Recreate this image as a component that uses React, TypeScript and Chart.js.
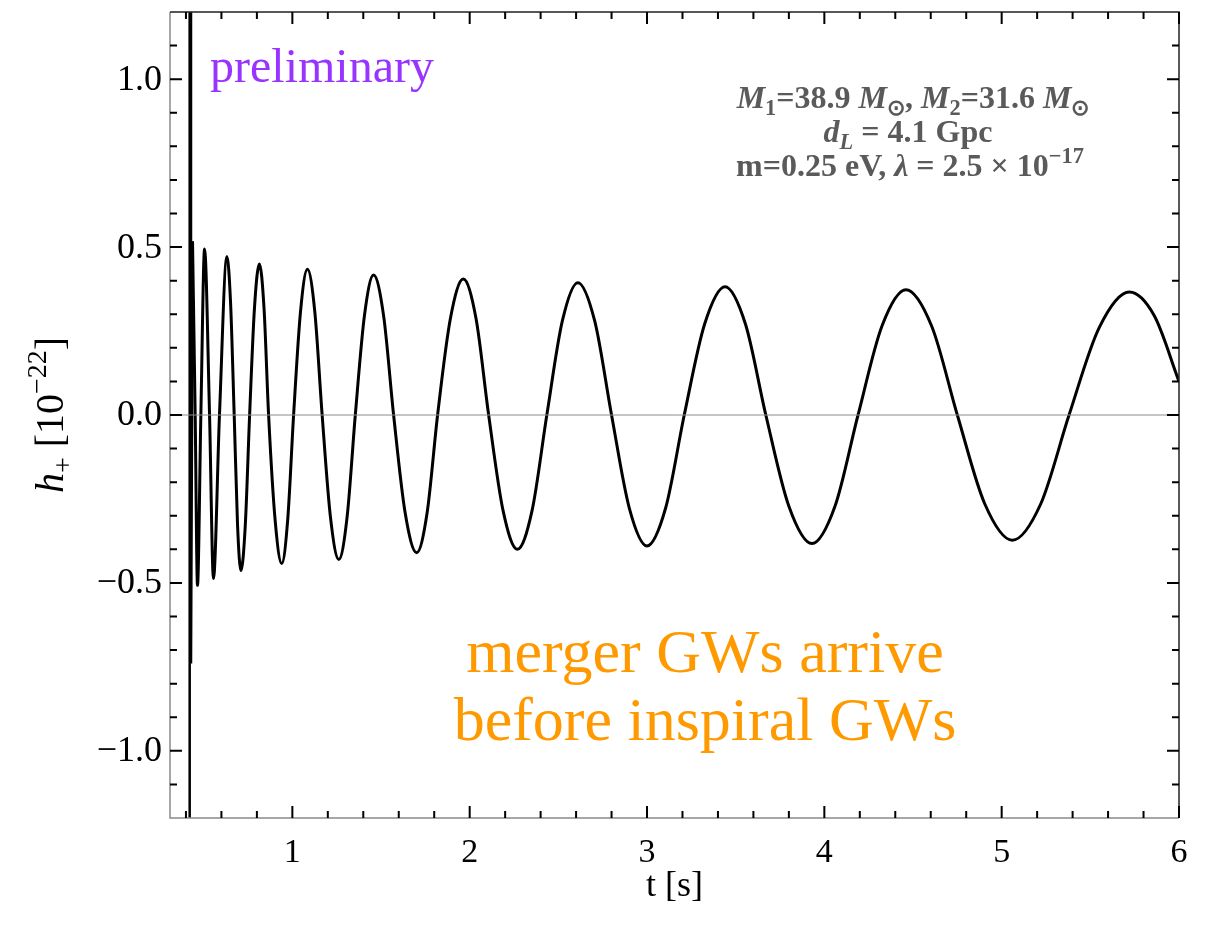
import React, { useEffect, useRef } from 'react';
import { Chart, registerables } from 'chart.js';
Chart.register(...registerables);

const W = 1215;
const H = 929;
const xMin = 0.31;
const xMax = 6.0;
const yMin = -1.2;
const yMax = 1.2;

const xMajorTicks = [1, 2, 3, 4, 5, 6];
const xTickLabels = ['1', '2', '3', '4', '5', '6'];
const xMinorTicks = [0.4, 0.6, 0.8, 1.2, 1.4, 1.6, 1.8, 2.2, 2.4, 2.6, 2.8, 3.2, 3.4, 3.6, 3.8, 4.2, 4.4, 4.6, 4.8, 5.2, 5.4, 5.6, 5.8];
const yMajorTicks = [-1, -0.5, 0, 0.5, 1];
const yTickLabels = ['\u22121.0', '\u22120.5', '0.0', '0.5', '1.0'];
const yMinorTicks = [-1.1, -0.9, -0.8, -0.7, -0.6, -0.4, -0.3, -0.2, -0.1, 0.1, 0.2, 0.3, 0.4, 0.6, 0.7, 0.8, 0.9, 1.1];

// waveform samples (extrema, zero crossings and flank points)
const waveT = [
  0.437, 0.452, 0.465, 0.484, 0.505, 0.533, 0.555, 0.589,
  0.631, 0.6515, 0.672, 0.691, 0.710, 0.7345, 0.759, 0.7865,
  0.814, 0.840, 0.866, 0.903, 0.940, 0.9735, 1.007, 1.046,
  1.085, 1.1265, 1.168, 1.215, 1.262, 1.3085, 1.355, 1.4065,
  1.458, 1.5145, 1.571, 1.636, 1.701, 1.760, 1.819, 1.8915,
  1.964, 2.0355, 2.107, 2.188, 2.269, 2.352, 2.435, 2.5225,
  2.610, 2.705, 2.800, 2.900, 3.000, 3.105, 3.210, 3.325,
  3.440, 3.555, 3.670, 3.800, 3.930, 4.060, 4.190, 4.325,
  4.460, 4.605, 4.750, 4.905, 5.060, 5.220, 5.380, 5.550,
  5.720, 5.860, 6.000,
];
const waveH = [
  0.517, 0, -0.507, 0, 0.494, 0, -0.487, 0,
  0.472, 0.335, 0, -0.329, -0.464, -0.329, 0, 0.32,
  0.45, 0.32, 0, -0.314, -0.442, -0.314, 0, 0.308,
  0.434, 0.308, 0, -0.305, -0.43, -0.305, 0, 0.296,
  0.417, 0.296, 0, -0.291, -0.41, -0.291, 0, 0.288,
  0.405, 0.288, 0, -0.284, -0.40, -0.284, 0, 0.280,
  0.394, 0.280, 0, -0.277, -0.39, -0.277, 0, 0.271,
  0.382, 0.271, 0, -0.272, -0.383, -0.272, 0, 0.265,
  0.373, 0.265, 0, -0.265, -0.373, -0.265, 0, 0.26,
  0.366, 0.296, 0.10,
];

// merger spike at the start
const spikeT = [0.425, 0.427, 0.437];
const spikeH = [1.35, -0.74, 0.517];
const markerT = 0.421;

const FONT = '"Liberation Serif", "Times New Roman", serif';

type Seg = { t: string; i?: boolean; sub?: boolean; sup?: boolean };

function segFont(s: Seg, size: number, bold: boolean) {
  const sz = s.sub || s.sup ? size * 0.7 : size;
  return `${s.i ? 'italic ' : ''}${bold ? 'bold ' : ''}${sz}px ${FONT}`;
}

function drawRich(ctx: CanvasRenderingContext2D, segs: Seg[], cx: number, y: number, size: number, bold: boolean, color: string) {
  let total = 0;
  const widths: number[] = [];
  for (const s of segs) {
    ctx.font = segFont(s, size, bold);
    const w = ctx.measureText(s.t).width;
    widths.push(w);
    total += w;
  }
  let x = cx - total / 2;
  ctx.fillStyle = color;
  ctx.textAlign = 'left';
  ctx.textBaseline = 'alphabetic';
  segs.forEach((s, k) => {
    ctx.font = segFont(s, size, bold);
    const dy = s.sub ? size * 0.22 : s.sup ? -size * 0.42 : 0;
    ctx.fillText(s.t, x, y + dy);
    x += widths[k];
  });
}

const decor = {
  id: 'decor',
  afterDraw(chart: any) {
    const ctx: CanvasRenderingContext2D = chart.ctx;
    const { left, right, top, bottom } = chart.chartArea;
    const xs = chart.scales.x;
    const ys = chart.scales.y;
    ctx.save();
    // frame
    ctx.lineWidth = 1.5;
    ctx.strokeStyle = '#8a8a8a';
    ctx.beginPath();
    ctx.moveTo(left, top);
    ctx.lineTo(left, bottom);
    ctx.lineTo(right, bottom);
    ctx.stroke();
    ctx.strokeStyle = '#222';
    ctx.beginPath();
    ctx.moveTo(left, top);
    ctx.lineTo(right, top);
    ctx.lineTo(right, bottom);
    ctx.stroke();

    // ticks
    ctx.strokeStyle = '#000';
    ctx.lineWidth = 2;
    const major = 12;
    const minor = 7;
    ctx.beginPath();
    for (const v of xMajorTicks) {
      const px = xs.getPixelForValue(v);
      ctx.moveTo(px, bottom); ctx.lineTo(px, bottom - major);
      ctx.moveTo(px, top); ctx.lineTo(px, top + major);
    }
    for (const v of xMinorTicks) {
      const px = xs.getPixelForValue(v);
      ctx.moveTo(px, bottom); ctx.lineTo(px, bottom - minor);
      ctx.moveTo(px, top); ctx.lineTo(px, top + minor);
    }
    for (const v of yMajorTicks) {
      const py = ys.getPixelForValue(v);
      ctx.moveTo(left, py); ctx.lineTo(left + major, py);
      ctx.moveTo(right, py); ctx.lineTo(right - major, py);
    }
    for (const v of yMinorTicks) {
      const py = ys.getPixelForValue(v);
      ctx.moveTo(left, py); ctx.lineTo(left + minor, py);
      ctx.moveTo(right, py); ctx.lineTo(right - minor, py);
    }
    ctx.stroke();

    // tick labels
    ctx.fillStyle = '#000';
    ctx.font = `36px ${FONT}`;
    ctx.textAlign = 'right';
    ctx.textBaseline = 'middle';
    yMajorTicks.forEach((v, k) => {
      ctx.fillText(yTickLabels[k], left - 8, ys.getPixelForValue(v) + 1);
    });
    ctx.font = `34px ${FONT}`;
    ctx.textAlign = 'center';
    ctx.textBaseline = 'alphabetic';
    xMajorTicks.forEach((v, k) => {
      ctx.fillText(xTickLabels[k], xs.getPixelForValue(v), 862);
    });

    // axis titles
    ctx.font = `36px ${FONT}`;
    ctx.fillText('t [s]', (left + right) / 2, 896);
    ctx.save();
    ctx.translate(63, (top + bottom) / 2);
    ctx.rotate(-Math.PI / 2);
    drawRich(ctx, [
      { t: 'h', i: true },
      { t: '+', sub: true },
      { t: ' [10' },
      { t: '\u221222', sup: true },
      { t: ']' },
    ], 0, 0, 40, false, '#000');
    ctx.restore();

    // annotations
    ctx.font = `48px ${FONT}`;
    ctx.fillStyle = '#9933ff';
    ctx.textAlign = 'left';
    ctx.fillText('preliminary', 210, 82);

    ctx.font = `62px ${FONT}`;
    ctx.fillStyle = '#ff9900';
    ctx.textAlign = 'center';
    ctx.fillText('merger GWs arrive', 705, 672);
    ctx.fillText('before inspiral GWs', 705, 740);

    const gray = '#5a5a5a';
    drawRich(ctx, [
      { t: 'M', i: true }, { t: '1', sub: true }, { t: '=38.9 ' },
      { t: 'M', i: true }, { t: '\u2299', sub: true }, { t: ', ' },
      { t: 'M', i: true }, { t: '2', sub: true }, { t: '=31.6 ' },
      { t: 'M', i: true }, { t: '\u2299', sub: true },
    ], 913, 108, 32, true, gray);
    drawRich(ctx, [
      { t: 'd', i: true }, { t: 'L', i: true, sub: true }, { t: ' = 4.1 Gpc' },
    ], 908, 142, 32, true, gray);
    drawRich(ctx, [
      { t: 'm=0.25 eV, ' }, { t: '\u03bb', i: true }, { t: ' = 2.5 \u00d7 10' }, { t: '\u221217', sup: true },
    ], 910, 176, 32, true, gray);
    ctx.restore();
  },
};

export default function App() {
  const ref = useRef<HTMLCanvasElement>(null);
  useEffect(() => {
    if (!ref.current) return;
    const wave = waveT.map((t, k) => ({ x: t, y: waveH[k] }));
    const spike = spikeT.map((t, k) => ({ x: t, y: spikeH[k] }));
    const chart = new Chart(ref.current, {
      type: 'line',
      data: {
        datasets: [
          { data: [{ x: xMin, y: 0 }, { x: xMax, y: 0 }], borderColor: '#8c8c8c', borderWidth: 1, pointRadius: 0, tension: 0 },
          { data: [{ x: markerT, y: yMin }, { x: markerT, y: yMax }], borderColor: '#000', borderWidth: 2.5, pointRadius: 0, tension: 0 },
          { data: spike, borderColor: '#000', borderWidth: 3, pointRadius: 0, tension: 0 },
          { data: wave, borderColor: '#000', borderWidth: 3, pointRadius: 0, cubicInterpolationMode: 'monotone' },
        ],
      },
      options: {
        animation: false,
        responsive: false,
        devicePixelRatio: 1,
        layout: { padding: { left: 170, right: W - 1179, top: 12, bottom: H - 818 } },
        scales: {
          x: { type: 'linear', min: xMin, max: xMax, display: false },
          y: { type: 'linear', min: yMin, max: yMax, display: false },
        },
        plugins: { legend: { display: false }, tooltip: { enabled: false } },
        events: [],
      },
      plugins: [decor],
    });
    return () => chart.destroy();
  }, []);
  return (
    <div style={{ position: 'fixed', left: 0, top: 0, width: W, height: H, background: '#fff' }}>
      <canvas ref={ref} width={W} height={H} style={{ width: W, height: H, display: 'block' }} />
    </div>
  );
}
